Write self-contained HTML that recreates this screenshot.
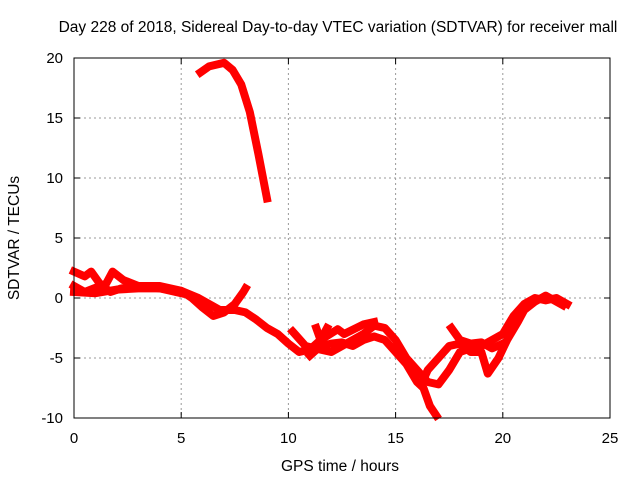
<!DOCTYPE html>
<html><head><meta charset="utf-8"><style>body{margin:0;background:#fff}svg{display:block;font-family:"Liberation Sans",sans-serif}</style></head>
<body>
<svg id="chart" width="640" height="480">
<text x="338" y="32" font-size="15.5" text-anchor="middle">Day 228 of 2018, Sidereal Day-to-day VTEC variation (SDTVAR) for receiver mall</text>
<text x="340" y="471" font-size="15.5" text-anchor="middle">GPS time / hours</text>
<text x="19" y="238" font-size="15.5" text-anchor="middle" transform="rotate(-90 19 238)">SDTVAR / TECUs</text>
<g id="grid"></g><g id="axes"></g><g id="series"></g>
<rect x="74" y="58" width="536" height="360" fill="none" stroke="#000" stroke-width="1"/>
</svg>
<script>
const xTicks=[0,5,10,15,20,25];
const yTicks=[-10,-5,0,5,10,15,20];
const traceUpper=[[5.9,18.8],[6.3,19.3],[7.0,19.6],[7.4,19.0],[7.8,17.8],[8.2,15.5],[8.6,12],[9.0,8.3]];
const trace1=[[0,2.2],[0.5,1.8],[0.8,2.2],[1.2,1.2],[1.7,0.5],[2.2,0.8],[3,1.0],[4,0.8],[5,0.6],[5.5,0.0],[6,-0.8],[6.5,-1.5],[7,-1.2],[7.5,-0.5],[7.9,0.5],[8.0,0.8]];
const trace2=[[0,1.0],[0.5,0.5],[1.5,1.2],[1.8,2.2],[2.3,1.5],[3,1.0],[4,1.0],[5,0.6],[5.8,0.0],[6.3,-0.5],[6.8,-1.0],[7.5,-1.0],[8,-1.2],[8.5,-1.8],[9,-2.5],[9.5,-3],[10,-3.8],[10.5,-4.5],[11,-4.3],[11.5,-3.5],[11.8,-2.5]];
const trace3=[[0,0.5],[1,0.4],[2,0.7],[3,0.8],[4,0.8],[5,0.4]];
const trace4=[[10.2,-2.8],[10.8,-4.0],[11.5,-4.3],[12,-4.5],[12.5,-4],[13,-3.5],[13.5,-3],[14,-2.3],[14.5,-2.5],[15,-3.5],[15.5,-5],[16,-6],[16.5,-7],[17,-7.2],[17.5,-6],[18,-4.5],[18.5,-4.2],[19,-4],[19.5,-3.5],[20,-3],[20.5,-1.5],[21,-0.5],[21.5,0],[22,-0.2],[22.5,0],[23,-0.5]];
const trace5=[[11,-4.8],[11.5,-4.0],[12,-3.8],[12.5,-3.7],[13,-4],[13.5,-3.5],[14,-3.2],[14.5,-3.5],[15,-4.5],[15.5,-5.5],[16,-7],[16.3,-7.5],[16.6,-9],[16.9,-9.8]];
const trace6=[[16.2,-7.2],[16.5,-6],[17,-5],[17.5,-4],[18,-3.8],[18.5,-4.5],[19,-4.5],[19.3,-6.3],[19.8,-5],[20.2,-3.5],[20.7,-2],[21,-1],[21.5,-0.3],[22,0.2],[22.5,-0.3],[22.8,-0.6]];
const trace7=[[17.6,-2.5],[18,-3.5],[18.5,-3.8],[19,-3.7],[19.5,-4.2],[20,-3.8]];
const trace8=[[11.3,-2.5],[11.5,-3.5],[12.3,-2.6],[12.6,-3.0],[13.5,-2.2],[14,-2.0]];
const NS="http://www.w3.org/2000/svg";
const X=h=>74+h*(536/25), Y=v=>58+(20-v)*12;
function mk(t,a,p){const e=document.createElementNS(NS,t);for(const k in a)e.setAttribute(k,a[k]);p.appendChild(e);return e;}
const grid=document.getElementById('grid'),axes=document.getElementById('axes'),ser=document.getElementById('series');
xTicks.forEach(t=>{const x=X(t);
 if(t>0&&t<25){const l=mk('line',{x1:x,x2:x,y1:58,y2:418,stroke:'#999','stroke-dasharray':'2,3'},grid);
 
 }
 mk('line',{x1:x,x2:x,y1:418,y2:412,stroke:'#000'},axes);mk('line',{x1:x,x2:x,y1:58,y2:64,stroke:'#000'},axes);
 const tx=mk('text',{x:x,y:443,'font-size':15,'text-anchor':'middle'},axes);tx.textContent=t;
 
 });
yTicks.forEach(t=>{const y=Y(t);
 if(t>-10&&t<20){const l=mk('line',{x1:74,x2:610,y1:y,y2:y,stroke:'#999','stroke-dasharray':'2,3'},grid);
 
 }
 mk('line',{x1:74,x2:80,y1:y,y2:y,stroke:'#000'},axes);mk('line',{x1:610,x2:604,y1:y,y2:y,stroke:'#000'},axes);
 const tx=mk('text',{x:63,y:y+5,'font-size':15,'text-anchor':'end'},axes);tx.textContent=t;
 
 });
[traceUpper,trace1,trace2,trace3,trace4,trace5,trace6,trace7,trace8].forEach((tr,i)=>{
 const p=mk('polyline',{points:tr.map(d=>X(d[0])+','+Y(d[1])).join(' '),fill:'none',stroke:'#f00','stroke-width':8,'stroke-linejoin':'round','stroke-linecap':'square'},ser);
 
 });
</script>
</body></html>
